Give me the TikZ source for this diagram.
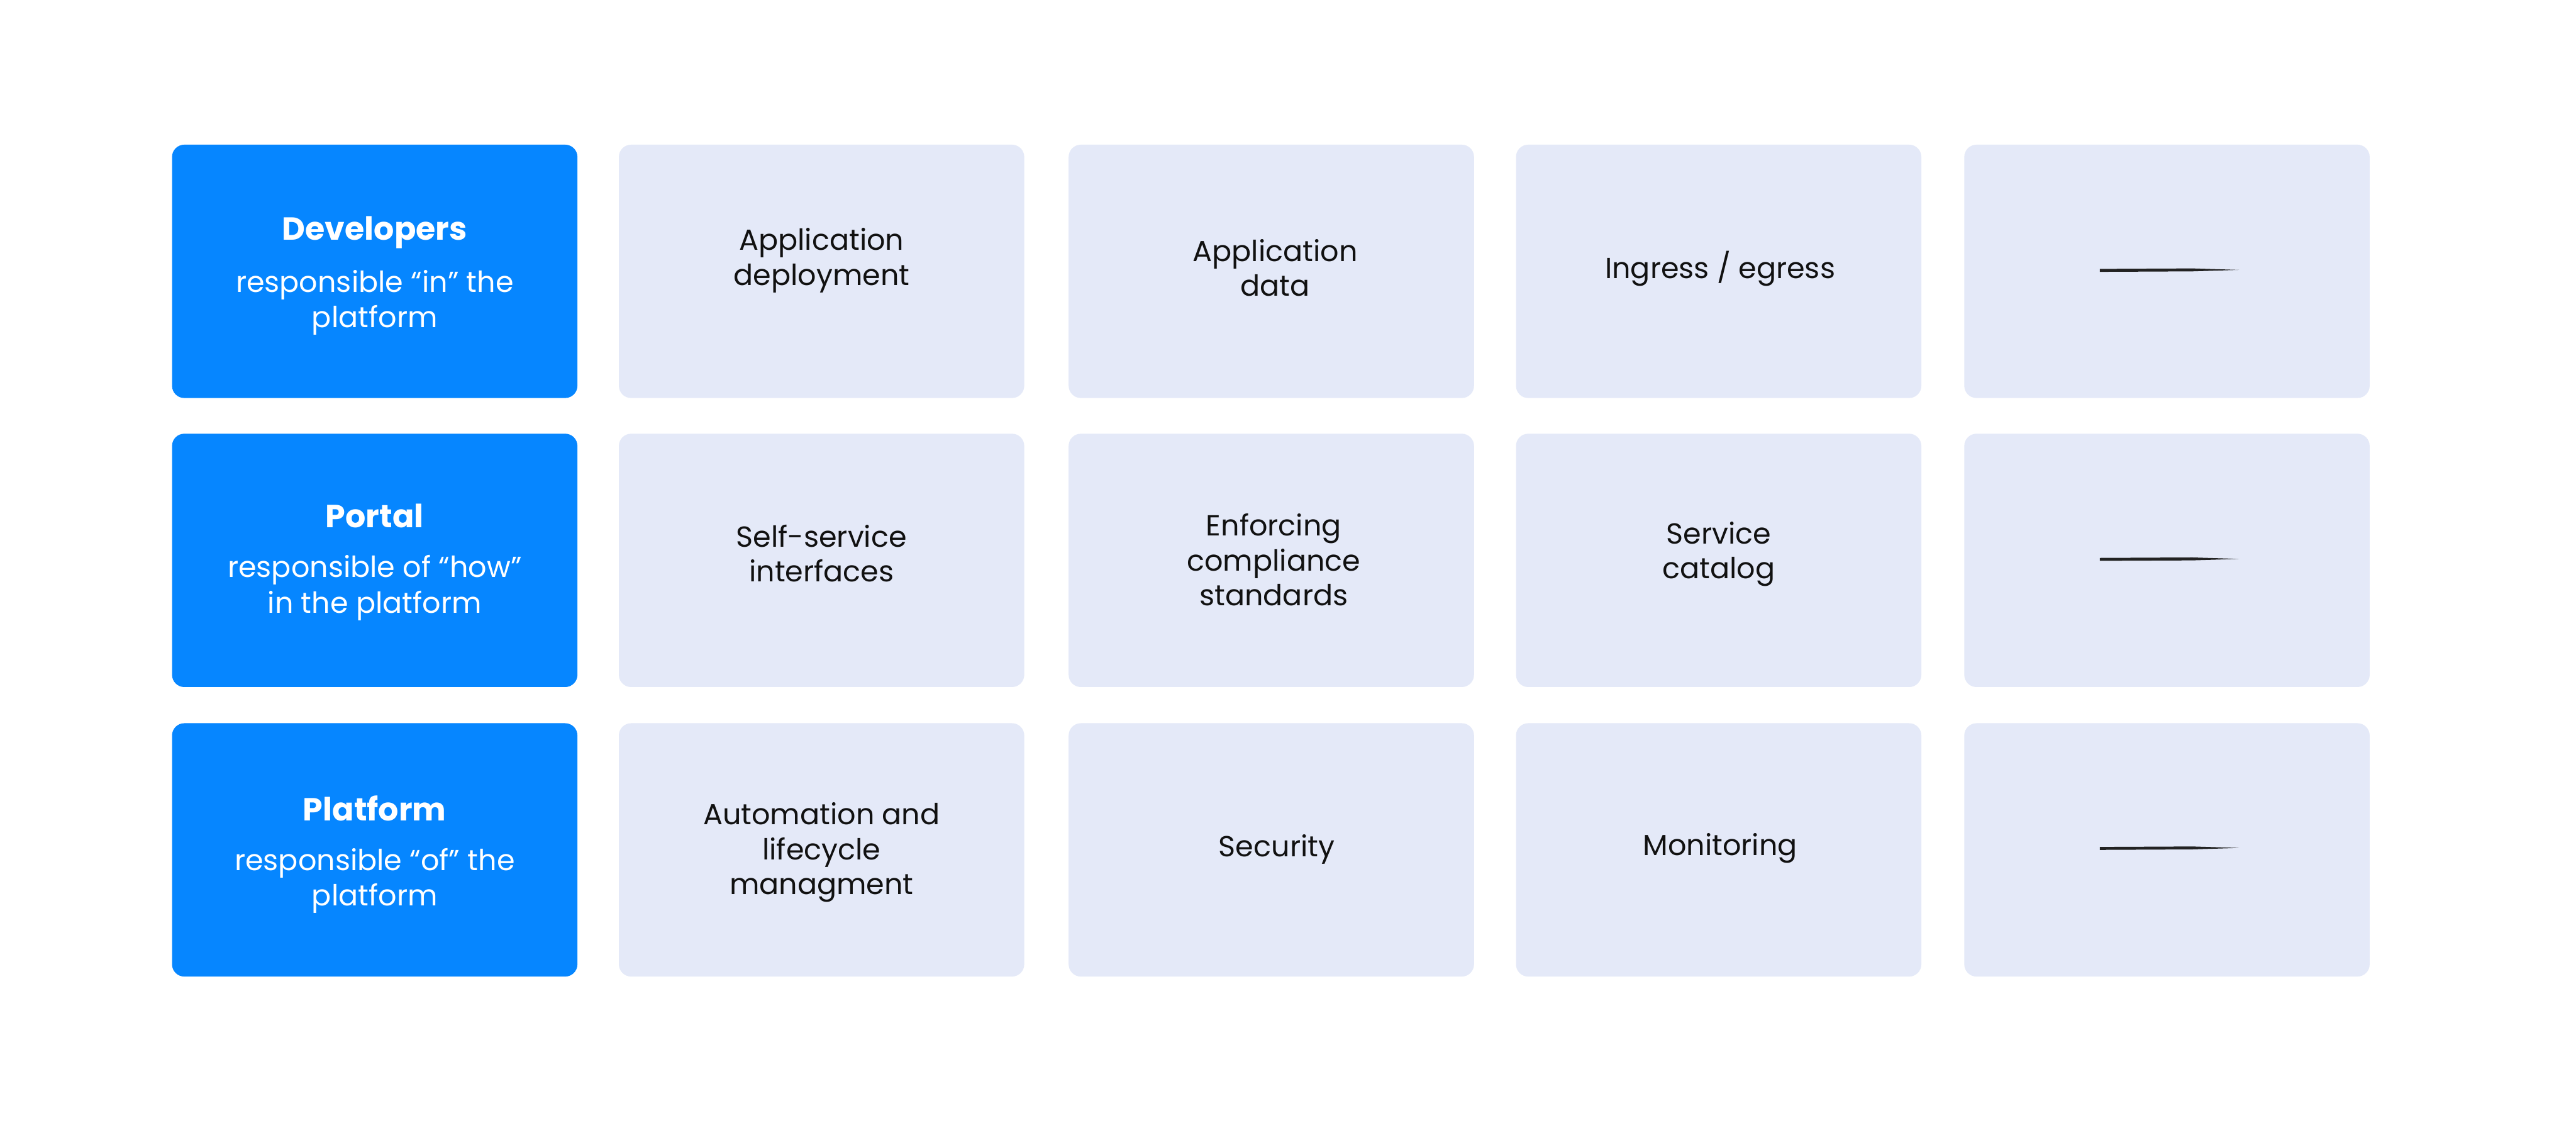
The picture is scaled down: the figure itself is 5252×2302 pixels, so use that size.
\documentclass[tikz,border=0pt]{standalone}
\usepackage{fontspec}
\setmainfont{Poppins}
\definecolor{blueBox}{RGB}{6,134,255}
\definecolor{paleBox}{RGB}{228,233,248}
\definecolor{ink}{RGB}{17,17,17}
\definecolor{dashInk}{RGB}{34,34,34}
\begin{document}
\begin{tikzpicture}[x=0.01cm,y=-0.01cm,
  cell/.style={minimum width=8.26cm, minimum height=5.16cm, inner sep=0pt, rounded corners=0.25cm, draw=none},
  headcell/.style={cell, fill=blueBox},
  palecell/.style={cell, fill=paleBox},
  lbl/.style={font=\fontsize{16.8}{20.2}\selectfont, text=ink, align=center, inner sep=0pt},
  headtitle/.style={font=\fontsize{18.5}{21}\selectfont\bfseries, text=white, inner sep=0pt},
  headbody/.style={font=\fontsize{16.8}{20.6}\selectfont, text=white, align=center, inner sep=0pt},
  dashmark/.style={fill=dashInk, draw=none}
]
\useasboundingbox (0,0) rectangle (5252,2302);
\fill[white] (0,0) rectangle (5252,2302);

% row 1
\node[headcell] (h1) at (764,553) {};
\node[palecell] (c11) at (1675,553) {};
\node[palecell] (c12) at (2592,553) {};
\node[palecell] (c13) at (3504,553) {};
\node[palecell] (c14) at (4418,553) {};
% row 2
\node[headcell] (h2) at (764,1142) {};
\node[palecell] (c21) at (1675,1142) {};
\node[palecell] (c22) at (2592,1142) {};
\node[palecell] (c23) at (3504,1142) {};
\node[palecell] (c24) at (4418,1142) {};
% row 3
\node[headcell] (h3) at (764,1732) {};
\node[palecell] (c31) at (1675,1732) {};
\node[palecell] (c32) at (2592,1732) {};
\node[palecell] (c33) at (3504,1732) {};
\node[palecell] (c34) at (4418,1732) {};

% header texts
\node[headtitle] (t1) at (764,474) {Developers};
\node[headbody] (b1) at (764,617) {responsible “in” the\\platform};
\node[headtitle] (t2) at (764,1051) {Portal};
\node[headbody] (b2) at (764,1198) {responsible of “how”\\in the platform};
\node[headtitle] (t3) at (764,1647) {Platform};
\node[headbody] (b3) at (764,1795) {responsible “of” the\\platform};

% cell texts
\node[lbl] (l11) at (1675,531) {Application\\deployment};
\node[lbl] (l12) at (2600,546) {Application\\data};
\node[lbl] (l13) at (3507,548) {Ingress / egress};
\node[lbl] (l21) at (1675,1128) {Self-service\\interfaces};
\node[lbl] (l22) at (2597,1141) {Enforcing\\compliance\\standards};
\node[lbl] (l23) at (3504,1129) {Service\\catalog};
\node[lbl] (l31) at (1675,1737) {Automation and\\lifecycle\\managment};
\node[lbl] (l32) at (2603,1731) {Security};
\node[lbl] (l33) at (3507,1729) {Monitoring};

% dashes in last column
\foreach \r/\yy in {1/551,2/1140,3/1729}{
  \fill[dashmark] (4281,\yy-3) -- (4470,\yy-4) -- (4565,\yy-1) -- (4470,\yy+2) -- (4281,\yy+3) -- cycle;
}
\end{tikzpicture}
\end{document}
